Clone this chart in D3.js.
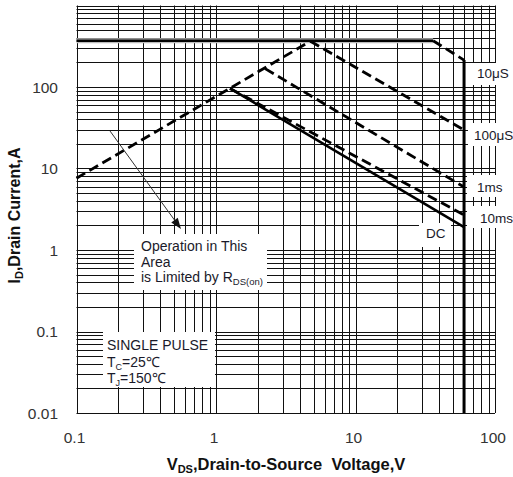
<!DOCTYPE html>
<html><head><meta charset="utf-8">
<script src="https://cdn.jsdelivr.net/npm/d3@7"></script>
<style>body{margin:0;background:#fff}svg{display:block}text{font-family:"Liberation Sans",Arial,sans-serif}</style>
</head><body>
<svg id="c" width="513" height="477"></svg>
<script>
// ---- data ----
const xTickValues = [0.1, 1, 10, 100];
const xTickLabels = ["0.1", "1", "10", "100"];
const yTickValues = [0.01, 0.1, 1, 10, 100];
const yTickLabels = ["0.01", "0.1", "1", "10", "100"];
const limit10usFlat = [[0.1, 370], [36, 370]];
const limit10usDrop = [[36, 370], [60, 214]];
const limitVds = [[60, 214], [60, 0.01]];
const rdsOnLimit = [[0.1, 7.6], [4.75, 365]];
const curve100us = [[4.75, 365], [60, 29.6]];
const curve1ms = [[2.25, 168], [60, 5.93]];
const curve10ms = [[1.26, 96], [60, 2.69]];
const curveDC = [[1.26, 96], [60, 1.91]];
const arrowPts = [[0.174, 28.8], [0.561, 1.81]];

const svg = d3.select("#c");
const x = d3.scaleLog().domain([0.1, 100]).range([76.5, 495]);
const y = d3.scaleLog().domain([0.01, 1000]).range([413, 5.5]);
const px = v => Math.round(x(v)) + 0.5;
const py = v => Math.round(y(v)) + 0.5;

// grid
const gx = [], gy = [];
[0.1, 1, 10].forEach(d => { for (let k = 1; k <= 9; k++) gx.push(+(d * k).toPrecision(3)); });
gx.push(100);
[0.01, 0.1, 1, 10, 100].forEach(d => { for (let k = 1; k <= 9; k++) gy.push(+(d * k).toPrecision(3)); });
gy.push(1000);
const g = svg.append("g");
g.selectAll(".vx").data(gx).join("line")
  .attr("x1", px).attr("x2", px).attr("y1", y(1000)).attr("y2", y(0.01))
  .attr("stroke", "#111").attr("stroke-width", 1);
g.selectAll(".hy").data(gy).join("line")
  .attr("y1", py).attr("y2", py).attr("x1", x(0.1)).attr("x2", x(100))
  .attr("stroke", "#111").attr("stroke-width", 1);

// white label boxes
const boxes = [[468, 63, 30, 22], [468, 123, 30, 23], [467, 175, 30, 22], [467, 206, 30, 22],
  [419, 223, 32, 24], [134, 234, 133, 56], [103, 332, 112, 55]];
svg.selectAll(".bx").data(boxes).join("rect")
  .attr("x", d => d[0]).attr("y", d => d[1]).attr("width", d => d[2]).attr("height", d => d[3])
  .attr("fill", "#fff");

// curves
const line = d3.line().x(d => x(d[0])).y(d => y(d[1]));
svg.append("path").attr("d", line(limit10usFlat)).attr("fill", "none").attr("stroke", "#bbb").attr("stroke-width", 5);
svg.append("path").attr("d", line(limit10usFlat)).attr("fill", "none").attr("stroke", "#000").attr("stroke-width", 2.6);
const dashed = [limit10usDrop, rdsOnLimit, curve100us, curve1ms, curve10ms];
dashed.forEach(c => svg.append("path").attr("d", line(c)).attr("fill", "none")
  .attr("stroke", "#000").attr("stroke-width", 2.8).attr("stroke-dasharray", "10,5"));
svg.append("path").attr("d", line(curveDC)).attr("fill", "none").attr("stroke", "#000").attr("stroke-width", 2.6);
svg.append("path").attr("d", line(limitVds)).attr("fill", "none").attr("stroke", "#000").attr("stroke-width", 3);

// arrow
const a0 = [x(arrowPts[0][0]), y(arrowPts[0][1])], a1 = [x(arrowPts[1][0]), y(arrowPts[1][1])];
const ang = Math.atan2(a1[1] - a0[1], a1[0] - a0[0]);
const L = 11, W = 4;
const base = [a1[0] - L * Math.cos(ang), a1[1] - L * Math.sin(ang)];
svg.append("line").attr("x1", a0[0]).attr("y1", a0[1]).attr("x2", base[0]).attr("y2", base[1])
  .attr("stroke", "#333").attr("stroke-width", 1);
svg.append("path").attr("d", `M${a1[0]},${a1[1]}L${base[0] + W * Math.sin(ang)},${base[1] - W * Math.cos(ang)}L${base[0] - W * Math.sin(ang)},${base[1] + W * Math.cos(ang)}Z`)
  .attr("fill", "#111");

// tick labels
svg.selectAll(".xt").data(xTickValues).join("text")
  .attr("x", d => x(d) - 2).attr("y", 443).attr("text-anchor", "middle")
  .attr("font-size", 15.5).attr("fill", "#333").text((d, i) => xTickLabels[i]);
svg.selectAll(".yt").data(yTickValues).join("text")
  .attr("x", 58).attr("y", d => y(d) + 5.5).attr("text-anchor", "end")
  .attr("font-size", 15.5).attr("fill", "#333").text((d, i) => yTickLabels[i]);

// axis titles
const xt = svg.append("text").attr("x", 286).attr("y", 470).attr("text-anchor", "middle")
  .attr("font-size", 16.5).attr("font-weight", "bold").attr("fill", "#111");
xt.append("tspan").text("V");
xt.append("tspan").attr("font-size", 11).attr("dy", 3).text("DS");
xt.append("tspan").attr("dy", -3).text(",Drain-to-Source\u00a0 Voltage,V");
const yt = svg.append("text").attr("transform", "translate(20,215.5) rotate(-90)").attr("text-anchor", "middle")
  .attr("font-size", 16).attr("font-weight", "bold").attr("fill", "#111");
yt.append("tspan").text("I");
yt.append("tspan").attr("font-size", 11).attr("dy", 3).text("D");
yt.append("tspan").attr("dy", -3).text(",Drain Current,A");

// curve labels
const labs = [["10\u03bcS", 477, 77.5], ["100\u03bcS", 474, 139.5], ["1ms", 477, 191.5], ["10ms", 480, 222.5], ["DC", 426, 237.5]];
svg.selectAll(".lb").data(labs).join("text")
  .attr("x", d => d[1]).attr("y", d => d[2]).attr("font-size", 13.5).attr("fill", "#1a1a2a").text(d => d[0]);

// annotation text
const t1 = svg.append("g").attr("font-size", 14).attr("fill", "#1a1a2a");
t1.append("text").attr("x", 141).attr("y", 251).text("Operation in This");
t1.append("text").attr("x", 141).attr("y", 267).text("Area");
const t3 = t1.append("text").attr("x", 141).attr("y", 282);
t3.append("tspan").text("is Limited by R");
t3.append("tspan").attr("font-size", 9.5).attr("dy", 3).text("DS(on)");

const t2 = svg.append("g").attr("font-size", 14).attr("fill", "#1a1a2a");
t2.append("text").attr("x", 107).attr("y", 350).text("SINGLE PULSE");
const tc = t2.append("text").attr("x", 107).attr("y", 367);
tc.append("tspan").text("T");
tc.append("tspan").attr("font-size", 9).attr("dy", 3).text("C");
tc.append("tspan").attr("dy", -3).text("=25\u2103");
const tj = t2.append("text").attr("x", 107).attr("y", 383);
tj.append("tspan").text("T");
tj.append("tspan").attr("font-size", 9).attr("dy", 3).text("J");
tj.append("tspan").attr("dy", -3).text("=150\u2103");
</script>
</body></html>
